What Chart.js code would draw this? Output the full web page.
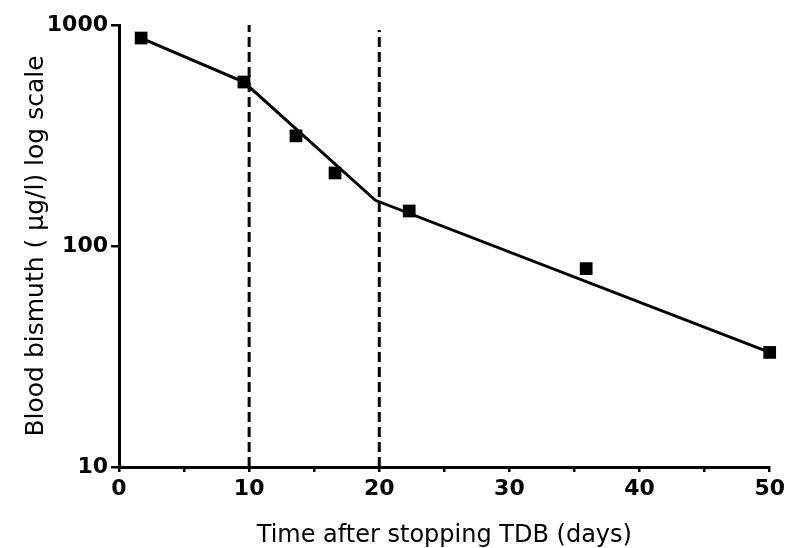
<!DOCTYPE html>
<html>
<head>
<meta charset="utf-8">
<script src="https://cdn.jsdelivr.net/npm/chart.js@4.4.1/dist/chart.umd.min.js"></script>
<style>
  html, body { margin: 0; padding: 0; background: #fff; }
  canvas { display: block; }
</style>
</head>
<body>
<canvas id="bismuthChart" width="789" height="548"></canvas>
<script>
// measured blood bismuth after stopping TDB
const dayValues = [1.7, 9.6, 13.6, 16.6, 22.3, 35.9, 50];
const bismuthValues = [873, 552, 315, 214, 144, 79, 33];

// fitted three-phase decay line
const fitDays = [1.7, 9.6, 19.7, 50];
const fitValues = [873, 552, 161, 33];

// dashed phase boundaries
const phaseDays = [10, 20];
const phaseTops = [1000, 950];

const yTickValues = [10, 100, 1000];

const tickFont = { family: '"DejaVu Sans", sans-serif', size: 22, weight: 'bold' };

const datasets = [{
    label: 'fit',
    data: fitDays.map((d, i) => ({ x: d, y: fitValues[i] })),
    showLine: true,
    borderColor: '#000',
    borderWidth: 3,
    pointRadius: 0,
    clip: false
}];

phaseDays.forEach((d, i) => {
    datasets.push({
        label: 'phase ' + (i + 1),
        data: [{ x: d, y: 10 }, { x: d, y: phaseTops[i] }],
        showLine: true,
        borderColor: '#000',
        borderWidth: 3,
        borderDash: [10, 5],
        pointRadius: 0,
        clip: false
    });
});

datasets.push({
    label: 'Blood bismuth',
    data: dayValues.map((d, i) => ({ x: d, y: bismuthValues[i] })),
    showLine: false,
    pointStyle: 'rect',
    pointRadius: 9,
    backgroundColor: '#000',
    borderColor: '#000',
    borderWidth: 0,
    clip: false
});

new Chart(document.getElementById('bismuthChart').getContext('2d'), {
    type: 'scatter',
    data: { datasets: datasets },
    options: {
        responsive: false,
        animation: false,
        layout: { padding: { top: 25, right: 18, left: 0, bottom: 0 } },
        plugins: {
            legend: { display: false },
            tooltip: { enabled: false }
        },
        scales: {
            x: {
                type: 'linear',
                min: 0,
                max: 50,
                afterFit: (scale) => { scale.height = 81; },
                ticks: {
                    stepSize: 5,
                    color: '#000',
                    font: tickFont,
                    padding: 4,
                    maxRotation: 0,
                    autoSkip: false,
                    callback: (v) => (v % 10 === 0 ? String(v) : '')
                },
                grid: {
                    drawOnChartArea: false,
                    drawTicks: true,
                    tickLength: 5,
                    color: '#000',
                    lineWidth: 2.5
                },
                border: { display: true, color: '#000', width: 3 },
                title: {
                    display: true,
                    text: 'Time after stopping TDB (days)',
                    color: '#000',
                    font: { family: '"DejaVu Sans", sans-serif', size: 24, lineHeight: 1 },
                    padding: { top: 0, bottom: 0 }
                }
            },
            y: {
                type: 'logarithmic',
                min: 10,
                max: 1000,
                afterFit: (scale) => { scale.width = 119; },
                afterBuildTicks: (scale) => {
                    scale.ticks = yTickValues.map(v => ({ value: v }));
                },
                ticks: {
                    color: '#000',
                    font: tickFont,
                    padding: 3,
                    callback: (v) => String(v)
                },
                grid: {
                    drawOnChartArea: false,
                    drawTicks: true,
                    tickLength: 8,
                    color: '#000',
                    lineWidth: 2.5
                },
                border: { display: true, color: '#000', width: 3 },
                title: {
                    display: true,
                    text: 'Blood bismuth ( μg/l) log scale',
                    color: '#000',
                    font: { family: '"DejaVu Sans", sans-serif', size: 25, lineHeight: 1 },
                    padding: { top: 24, bottom: 0 }
                }
            }
        }
    }
});
</script>
</body>
</html>
